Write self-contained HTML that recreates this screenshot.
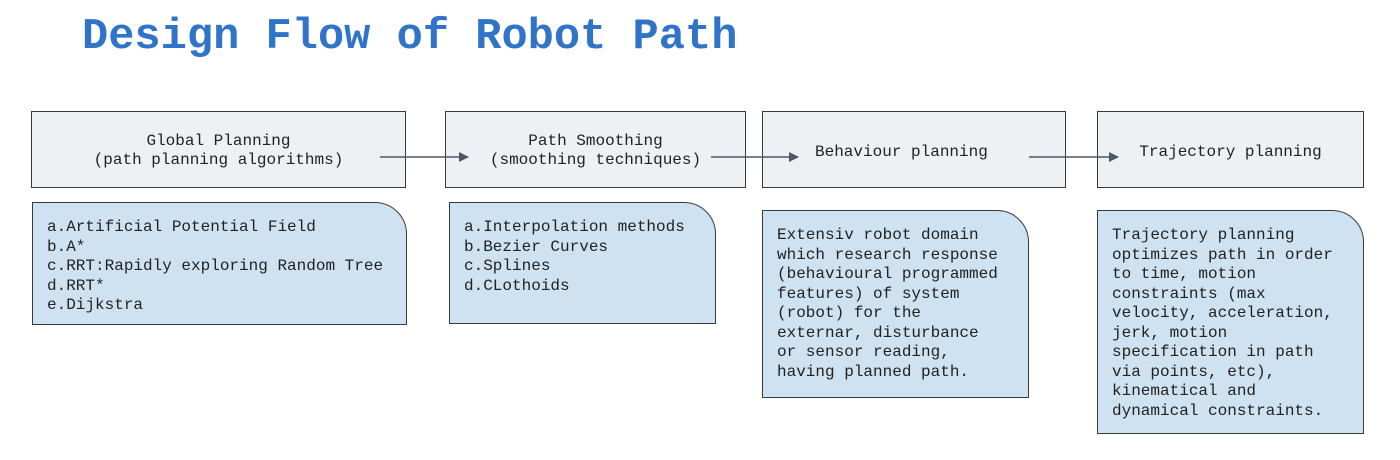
<!DOCTYPE html>
<html><head><meta charset="utf-8"><style>
body{margin:0;width:1400px;height:460px;background:#fff;position:relative;overflow:hidden;font-family:"Liberation Mono",monospace;color:#222}
.t{position:absolute;left:82px;top:13px;font-size:43.7px;font-weight:bold;color:#2f74c9;letter-spacing:0}
.b{position:absolute;box-sizing:border-box;border:1.5px solid #3a3a3a;background:#eef1f3;display:flex;align-items:center;justify-content:center;text-align:center;font-size:16px;line-height:19.5px;padding-top:3px}
.l{position:absolute;box-sizing:border-box;border:1.5px solid #3a3a3a;background:#cfe2f1;border-top-right-radius:32px;font-size:16px;line-height:19.5px;padding:15px 0 0 14px;white-space:pre}
</style></head><body>
<div class="t">Design Flow of Robot Path</div>
<div class="b" style="left:31px;top:111px;width:375px;height:77px">Global Planning<br>(path planning algorithms)</div>
<div class="b" style="left:445px;top:111px;width:301px;height:77px">Path Smoothing<br>(smoothing techniques)</div>
<div class="b" style="left:762px;top:111px;width:304px;height:77px;justify-content:flex-start;padding-left:52px;align-items:flex-start;padding-top:31px">Behaviour planning</div>
<div class="b" style="left:1097px;top:111px;width:267px;height:77px;align-items:flex-start;padding-top:31px">Trajectory planning</div>
<svg style="position:absolute;left:0;top:0" width="1400" height="460">
<defs><marker id="a" markerWidth="10" markerHeight="10" refX="9" refY="5" orient="auto" markerUnits="userSpaceOnUse"><path d="M0,0 L10,5 L0,10z" fill="#4a5866"/></marker></defs>
<g stroke="#4a5866" stroke-width="1.5" marker-end="url(#a)">
<line x1="380" y1="157" x2="468" y2="157"/>
<line x1="711" y1="157" x2="798" y2="157"/>
<line x1="1029" y1="157" x2="1118" y2="157"/>
</g></svg>
<div class="l" style="left:32px;top:202px;width:375px;height:123px">a.Artificial Potential Field
b.A*
c.RRT:Rapidly exploring Random Tree
d.RRT*
e.Dijkstra</div>
<div class="l" style="left:449px;top:202px;width:267px;height:122px">a.Interpolation methods
b.Bezier Curves
c.Splines
d.CLothoids</div>
<div class="l" style="left:762px;top:210px;width:267px;height:188px">Extensiv robot domain
which research response
(behavioural programmed
features) of system
(robot) for the
externar, disturbance
or sensor reading,
having planned path.</div>
<div class="l" style="left:1097px;top:210px;width:267px;height:224px">Trajectory planning
optimizes path in order
to time, motion
constraints (max
velocity, acceleration,
jerk, motion
specification in path
via points, etc),
kinematical and
dynamical constraints.</div>
</body></html>
